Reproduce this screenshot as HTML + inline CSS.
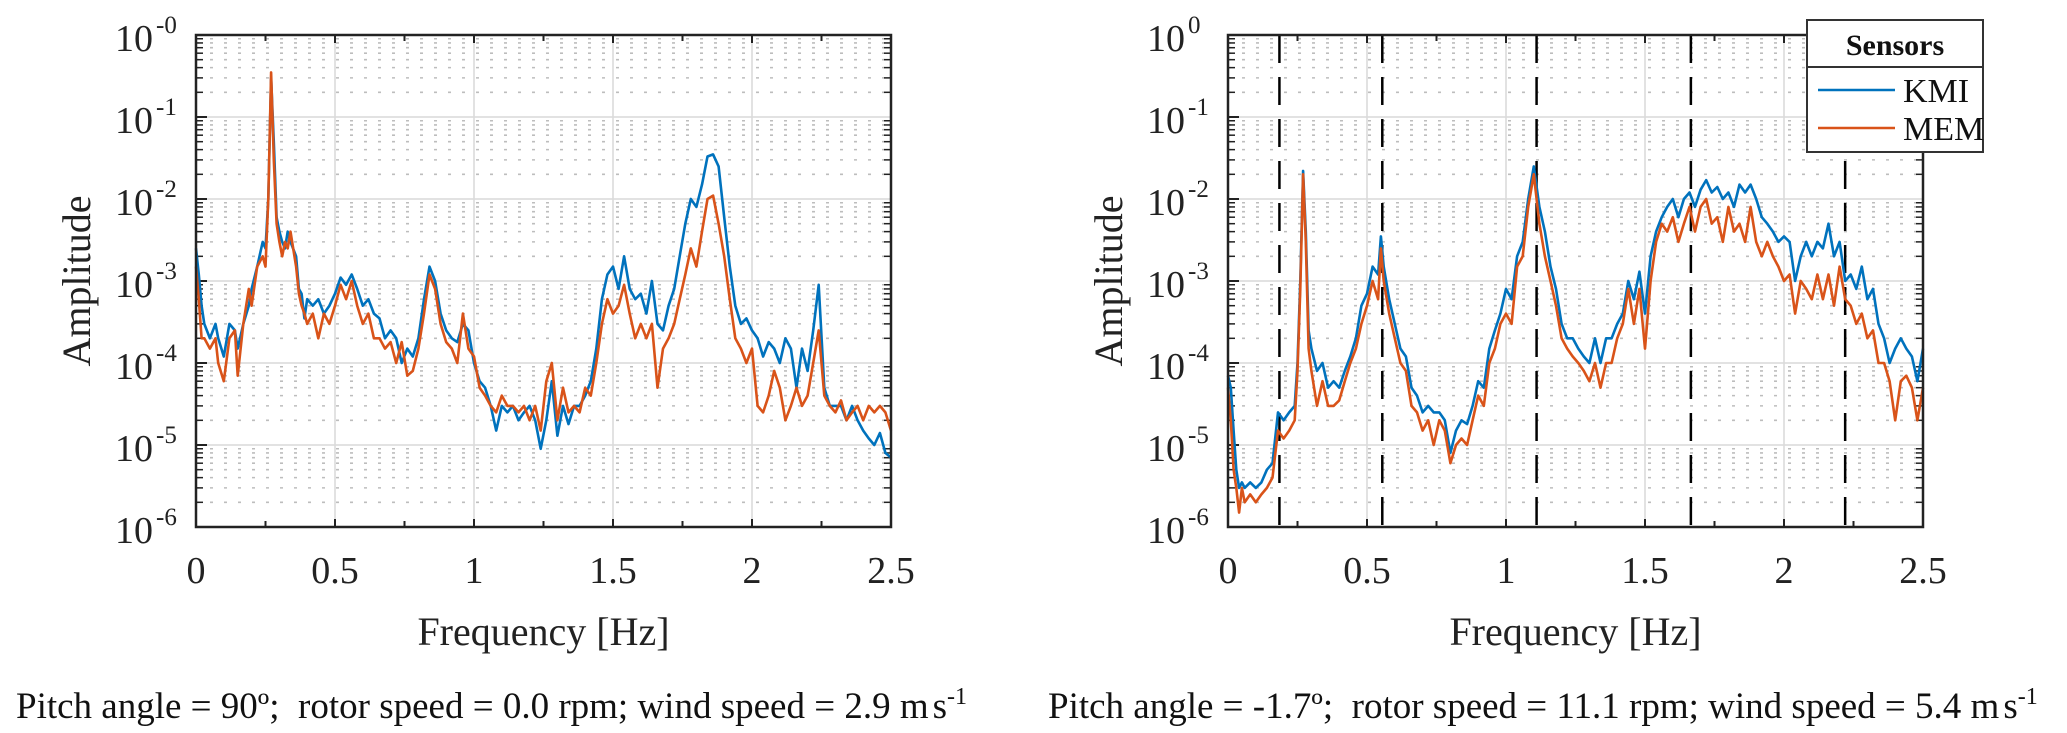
<!DOCTYPE html>
<html><head><meta charset="utf-8"><style>
html,body{margin:0;padding:0;background:#fff;}
svg{display:block;font-family:"Liberation Serif",serif;}
</style></head><body>
<svg id="fig" width="2067" height="733" viewBox="0 0 2067 733" xmlns="http://www.w3.org/2000/svg"></svg>
<script>
const freqLeft=[0,.01,.02,.03,.05,.07,.08,.1,.12,.14,.15,.17,.19,.2,.22,.24,.25,.26,.27,.28,.29,.3,.31,.32,.33,.34,.36,.37,.38,.39,.4,
.42,.44,.46,.48,.5,.52,.54,.56,.58,.6,.62,.64,.66,.68,.7,.72,.74,.76,.78,.8,.82,.84,.86,.88,.9,.92,.94,.96,.98,1,
1.02,1.04,1.06,1.08,1.1,1.12,1.14,1.16,1.18,1.2,1.22,1.24,1.26,1.28,1.3,1.32,1.34,1.36,1.38,1.4,1.42,1.44,1.46,1.48,1.5,
1.52,1.54,1.56,1.58,1.6,1.62,1.64,1.66,1.68,1.7,1.72,1.74,1.76,1.78,1.8,1.82,1.84,1.86,1.88,1.9,1.92,1.94,1.96,1.98,2,
2.02,2.04,2.06,2.08,2.1,2.12,2.14,2.16,2.18,2.2,2.22,2.24,2.26,2.28,2.3,2.32,2.34,2.36,2.38,2.4,2.42,2.44,2.46,2.48,2.5];
const kmiLeft=[2.5e-3,1.2e-3,5e-4,3e-4,2e-4,3e-4,2e-4,1.2e-4,3e-4,2.5e-4,1.5e-4,3e-4,5e-4,8e-4,1.5e-3,3e-3,2.5e-3,1e-2,.3,5e-2,6e-3,4e-3,3e-3,2.5e-3,4e-3,3e-3,2e-3,8e-4,7e-4,3.5e-4,6e-4,
5e-4,6e-4,4e-4,5e-4,7e-4,1.1e-3,9e-4,1.2e-3,8e-4,5e-4,6e-4,4e-4,3.5e-4,2e-4,2.5e-4,2e-4,1e-4,1.5e-4,1.2e-4,2e-4,6e-4,1.5e-3,1e-3,4e-4,2.5e-4,2e-4,1.8e-4,3e-4,2.5e-4,1e-4,
6e-5,5e-5,3e-5,1.5e-5,3e-5,2.5e-5,3e-5,2e-5,2.5e-5,3e-5,2e-5,9e-6,2e-5,6e-5,1.3e-5,3e-5,1.8e-5,3e-5,3e-5,4e-5,6e-5,1.5e-4,6e-4,1.2e-3,1.5e-3,
8e-4,2e-3,8e-4,6e-4,7e-4,4e-4,1e-3,3e-4,2.5e-4,5e-4,8e-4,2e-3,5e-3,1e-2,8e-3,1.5e-2,3.3e-2,3.5e-2,2.5e-2,6e-3,1.5e-3,5e-4,3e-4,3.5e-4,2.5e-4,
2e-4,1.2e-4,1.8e-4,1.5e-4,1e-4,2e-4,1.5e-4,5e-5,1.5e-4,8e-5,2.5e-4,9e-4,5e-5,3e-5,3e-5,3e-5,2e-5,3e-5,2e-5,1.5e-5,1.2e-5,1e-5,1.4e-5,8e-6,7e-6];
const memLeft=[1.5e-3,6e-4,2e-4,2e-4,1.5e-4,2e-4,1e-4,6e-5,2e-4,2.5e-4,7e-5,3e-4,8e-4,5e-4,1.5e-3,2e-3,1.5e-3,1e-2,.35,3e-2,5e-3,3e-3,2e-3,3e-3,2.5e-3,4e-3,1.5e-3,7e-4,5e-4,4e-4,3e-4,
4e-4,2e-4,4e-4,3e-4,5e-4,9e-4,6e-4,1e-3,5e-4,3e-4,4e-4,2e-4,2e-4,1.5e-4,1.8e-4,1e-4,1.8e-4,7e-5,8e-5,1.5e-4,4e-4,1.2e-3,8e-4,3e-4,1.8e-4,1.5e-4,1e-4,4e-4,1.5e-4,1.2e-4,
5e-5,4e-5,3e-5,2.5e-5,4e-5,3e-5,3e-5,2.5e-5,3e-5,2e-5,3e-5,1.5e-5,6e-5,1e-4,2e-5,5e-5,2.5e-5,3e-5,2.5e-5,5e-5,4e-5,1e-4,3e-4,6e-4,4e-4,
5e-4,9e-4,4e-4,2e-4,3e-4,2e-4,3e-4,5e-5,1.5e-4,2e-4,3e-4,6e-4,1.2e-3,2.5e-3,1.5e-3,4e-3,1e-2,1.1e-2,5e-3,2e-3,6e-4,2e-4,1.5e-4,1e-4,1.5e-4,
3e-5,2.5e-5,4e-5,8e-5,5e-5,2e-5,3e-5,5e-5,3e-5,4e-5,1e-4,2.5e-4,4e-5,3e-5,2.5e-5,3.5e-5,2e-5,2.5e-5,3e-5,2e-5,3e-5,2.5e-5,3e-5,2.5e-5,1.5e-5];
const freqRight=[0,.01,.02,.03,.04,.05,.06,.08,.1,.12,.14,.16,.18,.2,.22,.24,.25,.26,.27,.28,.29,.3,
.32,.34,.36,.38,.4,.42,.44,.46,.48,.5,.52,.54,.55,.56,.58,.6,.62,.64,.66,.68,.7,.72,.74,.76,.78,.8,.82,.84,.86,.88,.9,.92,.94,.96,.98,1,
1.02,1.04,1.06,1.08,1.1,1.12,1.14,1.16,1.18,1.2,1.22,1.24,1.26,1.28,1.3,1.32,1.34,1.36,1.38,1.4,1.42,1.44,1.46,1.48,1.5,
1.52,1.54,1.56,1.58,1.6,1.62,1.64,1.66,1.68,1.7,1.72,1.74,1.76,1.78,1.8,1.82,1.84,1.86,1.88,1.9,1.92,1.94,1.96,1.98,2,
2.02,2.04,2.06,2.08,2.1,2.12,2.14,2.16,2.18,2.2,2.22,2.24,2.26,2.28,2.3,2.32,2.34,2.36,2.38,2.4,2.42,2.44,2.46,2.48,2.5];
const kmiRight=[7e-5,5e-5,1.5e-5,5e-6,3e-6,3.5e-6,3e-6,3.5e-6,3e-6,3.5e-6,5e-6,6e-6,2.5e-5,2e-5,2.5e-5,3e-5,1e-4,1e-3,2.2e-2,4e-3,2.5e-4,1.5e-4,
8e-5,1e-4,5e-5,6e-5,5e-5,8e-5,1.2e-4,2e-4,5e-4,7e-4,1.5e-3,1.2e-3,3.5e-3,1.5e-3,6e-4,3e-4,1.5e-4,1.2e-4,5e-5,4e-5,2.5e-5,3e-5,2.5e-5,2.5e-5,2e-5,8e-6,1.5e-5,2e-5,1.8e-5,3e-5,6e-5,5e-5,1.5e-4,2.5e-4,4e-4,8e-4,
6e-4,2e-3,3e-3,1e-2,2.5e-2,8e-3,4e-3,1.5e-3,8e-4,3e-4,2e-4,2e-4,1.5e-4,1.2e-4,1e-4,2e-4,1e-4,2e-4,2e-4,3e-4,4e-4,1e-3,6e-4,1.3e-3,4e-4,
2e-3,4e-3,6e-3,8e-3,1e-2,6e-3,1e-2,1.2e-2,8e-3,1.3e-2,1.7e-2,1.2e-2,1.4e-2,1e-2,1.2e-2,8e-3,1.5e-2,1.2e-2,1.5e-2,1e-2,6e-3,5e-3,4e-3,3e-3,3.5e-3,
3e-3,1e-3,2e-3,3e-3,2e-3,3e-3,2.5e-3,5e-3,2e-3,3e-3,1e-3,1.2e-3,8e-4,1.5e-3,6e-4,8e-4,3e-4,2e-4,1e-4,1.5e-4,2e-4,1.5e-4,1.2e-4,6e-5,1.5e-4];
const memRight=[5e-5,2e-5,5e-6,3e-6,1.5e-6,3e-6,2e-6,2.5e-6,2e-6,2.5e-6,3e-6,4e-6,1.5e-5,1.2e-5,1.5e-5,2e-5,8e-5,8e-4,2e-2,3e-3,1.5e-4,8e-5,
3e-5,6e-5,3e-5,3e-5,3.5e-5,6e-5,1e-4,1.5e-4,3e-4,5e-4,1e-3,6e-4,2.5e-3,1e-3,4e-4,2e-4,1e-4,8e-5,3e-5,2.5e-5,1.5e-5,2e-5,1e-5,2e-5,1.5e-5,6e-6,1e-5,1.2e-5,1e-5,2e-5,4e-5,3e-5,1e-4,1.5e-4,3e-4,4e-4,
3e-4,1.5e-3,2e-3,8e-3,2e-2,5e-3,2e-3,1e-3,5e-4,2e-4,1.5e-4,1.2e-4,1e-4,8e-5,6e-5,1e-4,5e-5,1e-4,1e-4,2e-4,3e-4,8e-4,3e-4,8e-4,1.5e-4,
1e-3,3e-3,5e-3,4e-3,6e-3,3e-3,5e-3,8e-3,4e-3,8e-3,1e-2,5e-3,6e-3,3e-3,8e-3,4e-3,5e-3,3e-3,8e-3,3e-3,2e-3,3e-3,2e-3,1.5e-3,1e-3,
1.2e-3,4e-4,1e-3,8e-4,6e-4,1.2e-3,6e-4,1.2e-3,5e-4,1.5e-3,6e-4,5e-4,3e-4,4e-4,2e-4,2.5e-4,1e-4,1e-4,6e-5,2e-5,6e-5,7e-5,5e-5,2e-5,5e-5];
const xTicks=[0,0.5,1,1.5,2,2.5];
const xTickLabels=["0","0.5","1","1.5","2","2.5"];
const yExps=[0,-1,-2,-3,-4,-5,-6];
const harmonics=[0.185,0.555,1.11,1.665,2.22];

const NS="http://www.w3.org/2000/svg";
const svg=document.getElementById('fig');
const TOP=35,DEC=82,W=695,XMAX=2.5;
function mk(tag,attrs,parent){const e=document.createElementNS(NS,tag);for(const k in attrs)e.setAttribute(k,attrs[k]);(parent||svg).appendChild(e);return e;}

function drawChart(ox,name,kmi,mem,freqs,topLabel,caption,withLegend){
  const g=mk('g',{});
  
  
  const X=f=>ox+f/XMAX*W;
  const Y=v=>TOP+(-Math.log10(v))*DEC;
  const bottom=TOP+6*DEC;
  for(let d=0;d<6;d++){for(let m=2;m<=9;m++){const y=Y(m*Math.pow(10,-d-1));
    const l=mk('line',{x1:ox,x2:ox+W,y1:y,y2:y,stroke:'#bdbdbd','stroke-width':1.6,'stroke-dasharray':'3 11'},g);
    
    mk('line',{x1:ox,x2:ox+7,y1:y,y2:y,stroke:'#222','stroke-width':1.5},g);
    mk('line',{x1:ox+W,x2:ox+W-7,y1:y,y2:y,stroke:'#222','stroke-width':1.5},g);}}
  yExps.forEach(e=>{const y=Y(Math.pow(10,e));
    const l=mk('line',{x1:ox,x2:ox+W,y1:y,y2:y,stroke:'#d9d9d9','stroke-width':1.5},g);
    
    mk('line',{x1:ox,x2:ox+11,y1:y,y2:y,stroke:'#222','stroke-width':2},g);});
  xTicks.forEach((t,i)=>{const x=X(t);
    const l=mk('line',{x1:x,x2:x,y1:TOP,y2:bottom,stroke:'#d9d9d9','stroke-width':1.5},g);
    
    mk('line',{x1:x,x2:x,y1:bottom,y2:bottom-8,stroke:'#222','stroke-width':2},g);
    mk('line',{x1:x,x2:x,y1:TOP,y2:TOP+8,stroke:'#222','stroke-width':2},g);
    const tx=mk('text',{x:x,y:583,'text-anchor':'middle','font-size':38,fill:'#222'},g);
    tx.textContent=xTickLabels[i];
    });
  [0.25,0.75,1.25,1.75,2.25].forEach(t=>{const x=X(t);
    mk('line',{x1:x,x2:x,y1:bottom,y2:bottom-6,stroke:'#222','stroke-width':2},g);
    mk('line',{x1:x,x2:x,y1:TOP,y2:TOP+6,stroke:'#222','stroke-width':2},g);});
  yExps.forEach((e,i)=>{const y=Y(Math.pow(10,e));
    const t=mk('text',{x:ox-62,y:y+16,'text-anchor':'middle','font-size':38,fill:'#222'},g);
    t.textContent='10';
    
    const s=mk('text',{x:ox-40,y:y-2,'font-size':25,fill:'#222'},g);
    s.textContent=(e===0?topLabel:String(e));
    });
  if(withLegend){harmonics.forEach(h=>{const x=X(h);
    const l=mk('line',{x1:x,x2:x,y1:TOP,y2:bottom,stroke:'#000','stroke-width':2.5,'stroke-dasharray':'28 14'},g);
    });}
  const pts=a=>a.map((v,i)=>X(freqs[i]).toFixed(1)+','+Y(v).toFixed(1)).join(' ');
  const pk=mk('polyline',{points:pts(kmi),fill:'none',stroke:'#0072BD','stroke-width':2.6,'stroke-linejoin':'round'},g);
  
  const pm=mk('polyline',{points:pts(mem),fill:'none',stroke:'#D95319','stroke-width':2.6,'stroke-linejoin':'round'},g);
  
  const ax=mk('rect',{x:ox,y:TOP,width:W,height:6*DEC,fill:'none',stroke:'#222','stroke-width':2.5},g);
  
  const yl=mk('text',{x:0,y:0,transform:`translate(${ox-106},${TOP+3*DEC}) rotate(-90)`,'text-anchor':'middle','font-size':40,fill:'#222'},g);
  yl.textContent='Amplitude';
  const xl=mk('text',{x:ox+W/2,y:645,'text-anchor':'middle','font-size':40,fill:'#222'},g);
  xl.textContent='Frequency [Hz]';
  const cp=mk('text',{x:ox-180,y:718,'font-size':37,fill:'#111'},g);
  cp.innerHTML=caption;
  if(withLegend){
    const lg=mk('g',{},g);
    
    mk('rect',{x:1807,y:20,width:176,height:132,fill:'#fff',stroke:'#333','stroke-width':2},lg);
    mk('line',{x1:1807,x2:1983,y1:67,y2:67,stroke:'#333','stroke-width':2},lg);
    const th=mk('text',{x:1895,y:55,'text-anchor':'middle','font-size':30,'font-weight':'bold',fill:'#111'},lg);
    th.textContent='Sensors';
    [['KMI','#0072BD',90],['MEM','#D95319',128]].forEach(([n,c,y])=>{
      const e=mk('g',{},lg);
      
      mk('line',{x1:1818,x2:1895,y1:y,y2:y,stroke:c,'stroke-width':2.5},e);
      const t=mk('text',{x:1903,y:y+12,'font-size':34,fill:'#111'},e);t.textContent=n;});
  }
}
drawChart(196,'left-chart',kmiLeft,memLeft,freqLeft,'-0','Pitch angle = 90º;&#160; rotor speed = 0.0 rpm; wind speed = 2.9 m<tspan dx="4">s</tspan><tspan dy="-14" font-size="24">-1</tspan>',false);
drawChart(1228,'right-chart',kmiRight,memRight,freqRight,'0','Pitch angle = -1.7º;&#160; rotor speed = 11.1 rpm; wind speed = 5.4 m<tspan dx="4">s</tspan><tspan dy="-14" font-size="24">-1</tspan>',true);
</script>
</body></html>
